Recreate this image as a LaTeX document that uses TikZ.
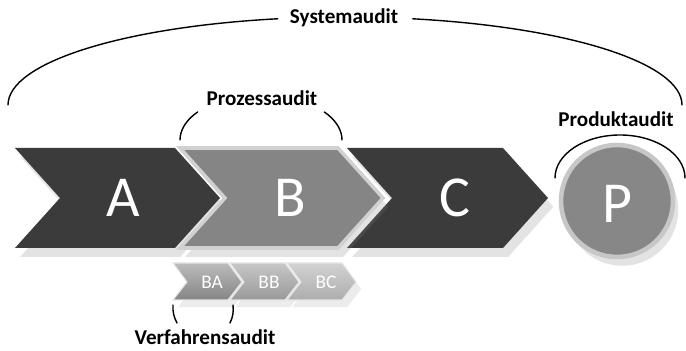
\documentclass[tikz,border=0pt]{standalone}
\usepackage{fontspec}
\setmainfont{Carlito}
\usepackage{tikz}
\usetikzlibrary{shadows}

\tikzset{
  bigarrow/.style={line join=miter, drop shadow={opacity=0.22, shadow xshift=3pt, shadow yshift=-5pt}},
  subarrow/.style={draw=black!10, line width=0.6pt, line join=miter,
    drop shadow={opacity=0.15, shadow xshift=3pt, shadow yshift=-4pt}},
  letter/.style={text=white, font=\fontsize{33}{40}\selectfont},
  subletter/.style={text=white, font=\fontsize{11}{13}\selectfont},
  auditlabel/.style={font=\fontsize{12}{14}\selectfont\bfseries},
  bracket/.style={line width=0.8pt, line cap=round}
}

\begin{document}
\begin{tikzpicture}[x=0.02cm, y=0.02cm]
  \useasboundingbox (0,0) rectangle (686,351);

  % process chevrons
  \path[bigarrow, fill=black!77] (15,203) -- (175,203) -- (220,153) -- (175,103) -- (15,103) -- (60,153) -- cycle;
  \path[bigarrow, fill=black!77] (347,203) -- (503,203) -- (548,153) -- (503,103) -- (347,103) -- (392,153) -- cycle;
  \path[bigarrow, fill=black!48, draw=black!18, line width=2pt] (180,203) -- (338,203) -- (383,153) -- (338,103) -- (180,103) -- (225,153) -- cycle;
  \node[letter] (A) at (123,153) {A};
  \node[letter] (B) at (290,153) {B};
  \node[letter] (C) at (455,153) {C};

  % product
  \path[fill=black!47, draw=black!22, line width=2.6pt,
    drop shadow={opacity=0.22, shadow xshift=3pt, shadow yshift=-5pt}] (617,150) circle (56);
  \node[letter] (P) at (617,147) {P};

  % sub steps of B
  \foreach \x/\t/\c in {173/BA/48, 230/BB/40, 287/BC/32}{
    \path[subarrow, bottom color=black!\c, top color=black!\c!white!55]
      (\x,88) -- (\x+55,88) -- (\x+69,69) -- (\x+55,51) -- (\x,51) -- (\x+14,69) -- cycle;
    \node[subletter] (\t) at (\x+39,69) {\t};
  }

  % labels
  \node[auditlabel] (sys) at (344,333) {Systemaudit};
  \node[auditlabel] (proz) at (262,253) {Prozessaudit};
  \node[auditlabel] (prod) at (616,232) {Produktaudit};
  \node[auditlabel] (verf) at (205,14) {Verfahrensaudit};

  % brackets
  \draw[bracket] (8,246) arc[start angle=180, end angle=101.5, x radius=337, y radius=88];
  \draw[bracket] (682,246) arc[start angle=0, end angle=78.4, x radius=337, y radius=88];
  \draw[bracket] (180,211) arc[start angle=180, end angle=141.5, x radius=81, y radius=45];
  \draw[bracket] (342,211) arc[start angle=0, end angle=38.5, x radius=81, y radius=45];
  \draw[bracket] (555,173) arc[start angle=180, end angle=0, x radius=65, y radius=43];
  \draw[bracket] (173,46) to[bend right=15] (177,28);
  \draw[bracket] (233,46) to[bend left=15] (230,28);
\end{tikzpicture}
\end{document}
